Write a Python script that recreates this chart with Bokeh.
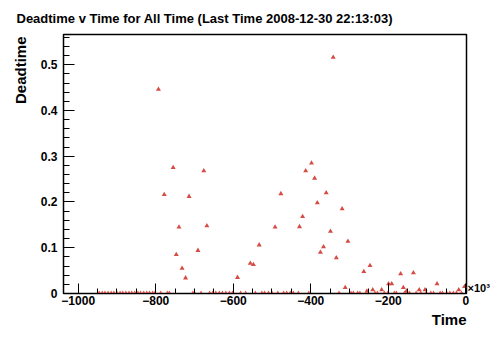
from bokeh.plotting import figure
from bokeh.models import (Range1d, FixedTicker, ColumnDataSource, Title,
                          LinearAxis)
from bokeh.embed import file_html
from bokeh.resources import INLINE

title_text = "Deadtime v Time for All Time (Last Time 2008-12-30 22:13:03)"
x_title = "Time"
y_title = "Deadtime"
exp_label = "\u00d710\u00b3"

x_ticks = [-1000, -800, -600, -400, -200, 0]
x_minor = [-1000, -950, -900, -850, -800, -750, -700, -650, -600, -550, -500,
           -450, -400, -350, -300, -250, -200, -150, -100, -50, 0]
y_ticks = [0, 0.1, 0.2, 0.3, 0.4, 0.5]
y_minor = [0, 0.02, 0.04, 0.06, 0.08, 0.1, 0.12, 0.14, 0.16, 0.18, 0.2, 0.22,
           0.24, 0.26, 0.28, 0.3, 0.32, 0.34, 0.36, 0.38, 0.4, 0.42, 0.44,
           0.46, 0.48, 0.5, 0.52, 0.54, 0.56]
y_tick_labels = ["0", "0.1", "0.2", "0.3", "0.4", "0.5"]
exp_tick = [0.012]

time = [-946, -938, -931, -923, -915, -908, -900, -892, -885, -877, -869, -862,
        -854, -846, -839, -831, -823, -816, -808, -802,
        -793, -787, -778, -770, -765, -755, -747, -740, -732, -723, -714, -704,
        -700, -691, -683, -676, -668, -661, -653, -645, -636, -628, -619, -610,
        -602, -589, -581, -568, -556, -548, -543, -533, -526, -519, -509, -500,
        -492, -485, -477, -470, -462, -453, -445, -432, -429, -421, -413, -405,
        -398, -390, -383, -375, -367, -360, -349, -342, -334, -327, -319, -311,
        -304, -296, -290, -279, -273, -263, -255, -247, -240, -234, -228, -217,
        -210, -201, -199, -191, -184, -179, -168, -161, -158, -153, -145, -135,
        -128, -120, -116, -105, -102, -90, -83, -74, -66, -60, -49, -41, -32,
        -24, -18, -11, -3]
deadtime = [0, 0, 0, 0, 0, 0, 0, 0, 0, 0, 0, 0,
            0, 0, 0, 0, 0, 0, 0, 0,
            0.446, 0, 0.216, 0, 0, 0.275, 0.085, 0.145, 0.055, 0.034, 0.212, 0,
            0, 0.094, 0, 0.268, 0.148, 0, 0, 0, 0, 0, 0, 0,
            0, 0.035, 0, 0, 0.066, 0.063, 0, 0.106, 0, 0, 0, 0,
            0.145, 0, 0.218, 0, 0, 0, 0, 0, 0.146, 0.168, 0.268, 0,
            0.285, 0.252, 0.198, 0.090, 0.102, 0.220, 0.136, 0.516, 0.078, 0, 0.185, 0.013,
            0.114, 0, 0, 0, 0, 0.048, 0.005, 0.061, 0.008, 0, 0, 0.008,
            0, 0, 0.021, 0.021, 0, 0, 0.043, 0.013, 0, 0.005, 0, 0.045,
            0, 0.008, 0, 0.008, 0, 0, 0, 0.021, 0, 0, 0, 0, 0,
            0, 0.008, 0, 0.015]

FONT = "Liberation Sans"
W, H = 492, 336

p = figure(width=W, height=H, output_backend="svg", toolbar_location=None,
           x_range=Range1d(-1038, 2), y_range=Range1d(0, 0.566),
           min_border_left=59, min_border_right=25, min_border_top=34,
           min_border_bottom=43)
p.background_fill_color = "white"
p.border_fill_color = "white"
p.outline_line_color = "black"
p.outline_line_width = 1.5
p.xgrid.visible = False
p.ygrid.visible = False

src = ColumnDataSource(dict(t=time, d=deadtime))
p.scatter("t", "d", source=src, marker="triangle", size=5,
          fill_color="#d64b43", line_color=None)

for ax in (p.xaxis[0], p.yaxis[0]):
    ax.axis_line_color = "black"
    ax.axis_line_width = 1
    ax.major_tick_out = 0
    ax.minor_tick_out = 0
    ax.major_tick_line_color = "black"
    ax.minor_tick_line_color = "black"
    ax.major_label_text_font = FONT
    ax.major_label_text_font_style = "bold"
    ax.major_label_text_font_size = "12px"
    ax.major_label_text_color = "black"

p.xaxis[0].ticker = FixedTicker(ticks=x_ticks, minor_ticks=x_minor)
p.xaxis[0].major_tick_in = 10
p.xaxis[0].minor_tick_in = 5
p.xaxis[0].major_label_standoff = 2

p.yaxis[0].ticker = FixedTicker(ticks=y_ticks, minor_ticks=y_minor)
p.yaxis[0].major_tick_in = 11
p.yaxis[0].minor_tick_in = 6
p.yaxis[0].major_label_standoff = 6
p.yaxis[0].major_label_overrides = {t: l for t, l in zip(y_ticks, y_tick_labels)}

# exponent note on the right, drawn as a single tick label
exp_axis = LinearAxis(ticker=FixedTicker(ticks=exp_tick, minor_ticks=[]),
                      major_label_overrides={exp_tick[0]: exp_label})
exp_axis.axis_line_color = None
exp_axis.major_tick_line_color = None
exp_axis.minor_tick_line_color = None
exp_axis.major_tick_in = 0
exp_axis.major_tick_out = 0
exp_axis.major_label_standoff = 1
exp_axis.major_label_text_font = FONT
exp_axis.major_label_text_font_style = "bold"
exp_axis.major_label_text_font_size = "11px"
exp_axis.major_label_text_color = "black"
p.add_layout(exp_axis, "right")

p.title.text = title_text
p.title.align = "left"
p.title.offset = -47
p.title.text_font = FONT
p.title.text_font_style = "bold"
p.title.text_font_size = "13px"
p.title.text_color = "black"
p.title.vertical_align = "top"
p.title.standoff = 14

p.add_layout(Title(text=y_title, align="right", offset=2,
                   text_font=FONT, text_font_style="bold",
                   text_font_size="15px", text_color="black",
                   standoff=18), "left")
p.add_layout(Title(text=x_title, align="right", offset=0,
                   text_font=FONT, text_font_style="bold",
                   text_font_size="15px", text_color="black",
                   standoff=2), "below")

open("out.html", "w").write(file_html(p, INLINE))
